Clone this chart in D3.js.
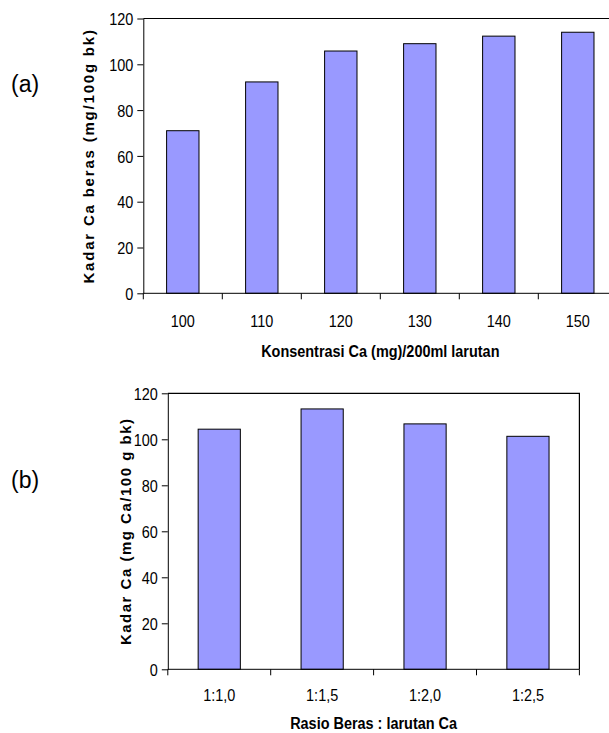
<!DOCTYPE html>
<html>
<head>
<meta charset="utf-8">
<script src="https://cdn.jsdelivr.net/npm/d3@7"></script>
<style>
  body { margin: 0; background: #fff; }
  svg { display: block; }
  text { font-family: "Liberation Sans", Arial, sans-serif; fill: #000; }
  .tick text { font-size: 17px; }
  .ytitle { font-weight: bold; font-size: 15px; }
  .xtitle { font-weight: bold; font-size: 17px; }
  .panel { font-size: 23px; }
</style>
</head>
<body>
<div id="chart"></div>
<script>
// (a) Ca content vs Ca concentration
const concCategories = ["100", "110", "120", "130", "140", "150"];
const concValues = [71, 92.3, 105.8, 109, 112.3, 114];

// (b) Ca content vs rice : solution ratio
const ratioCategories = ["1:1,0", "1:1,5", "1:2,0", "1:2,5"];
const ratioValues = [104.4, 113.2, 106.7, 101.3];

const yTicks = [0, 20, 40, 60, 80, 100, 120];

// the original uses a narrow Arial, squeeze text horizontally
const squeeze = 0.85;

const svg = d3.select("#chart")
    .append("svg")
    .attr("width", 609)
    .attr("height", 733);

function barPanel(opts) {
    const { cats, vals, left, right, top, bottom, yTitle, yTitleX, ySpacing, xTitle, tickY, xTitleY, label, labelY } = opts;

    const x = d3.scaleBand()
        .domain(cats)
        .range([left, right])
        .paddingInner(0.59)
        .paddingOuter(0.295);

    const y = d3.scaleLinear()
        .domain([0, 120])
        .range([bottom, top]);

    const g = svg.append("g");
    const step = x.step();

    // plot frame (top and right)
    g.append("path")
        .attr("d", `M${left},${top}H${right}V${bottom}`)
        .attr("fill", "none")
        .attr("stroke", "#000")
        .attr("stroke-width", 1.2);

    g.selectAll("rect.bar")
        .data(vals)
        .join("rect")
        .attr("class", "bar")
        .attr("x", (d, i) => x(cats[i]))
        .attr("y", d => y(d))
        .attr("width", x.bandwidth())
        .attr("height", d => y(0) - y(d))
        .attr("fill", "#9999FF")
        .attr("stroke", "#000")
        .attr("stroke-width", 1);

    const yAxis = g.append("g")
        .attr("transform", `translate(${left},0)`)
        .call(d3.axisLeft(y).tickValues(yTicks).tickSize(6).tickPadding(4).tickSizeOuter(0));
    yAxis.select(".domain").attr("stroke", "#000");
    yAxis.selectAll(".tick text")
        .attr("x", -10 / squeeze)
        .attr("dy", "0.36em")
        .attr("transform", `scale(${squeeze},1)`);

    // x axis line, ticks on category boundaries
    g.append("line")
        .attr("x1", left).attr("x2", right)
        .attr("y1", bottom).attr("y2", bottom)
        .attr("stroke", "#000");
    g.selectAll("line.xb")
        .data(d3.range(cats.length + 1))
        .join("line")
        .attr("class", "xb")
        .attr("x1", i => left + i * step)
        .attr("x2", i => left + i * step)
        .attr("y1", bottom)
        .attr("y2", bottom + 6)
        .attr("stroke", "#000");

    g.selectAll("text.xl")
        .data(cats)
        .join("text")
        .attr("class", "xl")
        .attr("transform", d => `translate(${x(d) + x.bandwidth() / 2},${tickY}) scale(${squeeze},1)`)
        .attr("text-anchor", "middle")
        .style("font-size", "17px")
        .text(d => d);

    g.append("text")
        .attr("class", "xtitle")
        .attr("transform", `translate(${(left + right) / 2},${xTitleY}) scale(${squeeze},1)`)
        .attr("text-anchor", "middle")
        .text(xTitle);

    g.append("text")
        .attr("class", "ytitle")
        .attr("transform", `translate(${yTitleX},${(top + bottom) / 2}) rotate(-90)`)
        .attr("text-anchor", "middle")
        .style("letter-spacing", ySpacing + "px")
        .text(yTitle);

    g.append("text")
        .attr("class", "panel")
        .attr("x", 11)
        .attr("y", labelY)
        .text(label);
}

barPanel({
    cats: concCategories, vals: concValues,
    left: 143.3, right: 617.3, top: 18.5, bottom: 293.3,
    yTitle: "Kadar Ca beras (mg/100g bk)", yTitleX: 94, ySpacing: 1.8,
    xTitle: "Konsentrasi Ca (mg)/200ml larutan",
    tickY: 327, xTitleY: 357, label: "(a)", labelY: 92
});

barPanel({
    cats: ratioCategories, vals: ratioValues,
    left: 167.8, right: 579.4, top: 393.3, bottom: 669.3,
    yTitle: "Kadar Ca (mg Ca/100 g bk)", yTitleX: 131, ySpacing: 1.5,
    xTitle: "Rasio Beras : larutan Ca",
    tickY: 701, xTitleY: 729, label: "(b)", labelY: 488
});
</script>
</body>
</html>
